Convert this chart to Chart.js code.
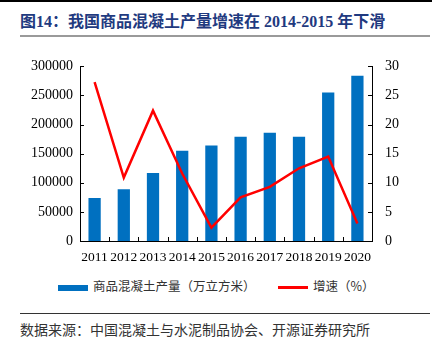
<!DOCTYPE html>
<html>
<head>
<meta charset="utf-8">
<script src="https://cdn.jsdelivr.net/npm/chart.js@4"></script>
<style>
  body { margin: 0; width: 442px; height: 342px; background: #fff; position: relative; overflow: hidden; }
  .topline { position: absolute; left: 0; top: 0; width: 432px; height: 2px; background: #000; }
  .title { position: absolute; left: 20px; top: 8px; font: bold 16px "Liberation Serif", "Noto Sans CJK SC"; color: #1f3a80; white-space: nowrap; }
  .titleline { position: absolute; left: 20px; top: 35px; width: 410px; height: 2px; background: #9a9a9a; }
  #wrap { position: absolute; left: 0; top: 45px; width: 442px; height: 227px; }
  .legend { position: absolute; top: 276px; font: 12.5px "Noto Sans CJK SC"; color: #333; white-space: nowrap; }
  .footline { position: absolute; left: 20px; top: 313px; width: 410px; height: 1px; background: #333; }
  .source { position: absolute; left: 20px; top: 319px; font: 14px "Noto Sans CJK SC"; color: #333; white-space: nowrap; }
</style>
</head>
<body>
<div class="topline"></div>
<div class="title">图14：我国商品混凝土产量增速在 2014-2015 年下滑</div>
<div class="titleline"></div>
<div id="wrap"><canvas id="c"></canvas></div>
<div class="legend" style="left:58px"><span style="display:inline-block;width:30px;height:6px;background:#0070c0;vertical-align:middle;margin-right:5px"></span>商品混凝土产量（万立方米）</div>
<div class="legend" style="left:278px"><span style="display:inline-block;width:30px;height:3px;background:#ff0000;vertical-align:middle;margin-right:5px"></span>增速（%）</div>
<div class="footline"></div>
<div class="source">数据来源：中国混凝土与水泥制品协会、开源证券研究所</div>
<script>
var years = ['2011', '2012', '2013', '2014', '2015', '2016', '2017', '2018', '2019', '2020'];
var output = [74000, 89000, 117000, 155000, 164000, 179000, 186000, 179000, 255000, 284000];
var growth = [27.3, 10.9, 22.4, 11.6, 2.3, 7.5, 9.3, 12.5, 14.5, 3.0];

// short tick marks pointing into the plot, like the original
var innerTicks = {
  id: 'innerTicks',
  afterDraw: function (chart) {
    var ctx = chart.ctx;
    var a = chart.chartArea;
    ctx.save();
    ctx.strokeStyle = '#000';
    ctx.lineWidth = 1;
    ctx.beginPath();
    var x = chart.scales.x;
    var step = x.getPixelForTick(1) - x.getPixelForTick(0);
    for (var i = 0; i <= years.length; i++) {
      var px = i < years.length ? x.getPixelForTick(i) - step / 2 : x.getPixelForTick(i - 1) + step / 2;
      px = Math.round(px) + 0.5;
      ctx.moveTo(px, a.bottom);
      ctx.lineTo(px, a.bottom - 4);
    }
    chart.scales.y.ticks.forEach(function (t, i) {
      var py = Math.round(chart.scales.y.getPixelForTick(i)) + 0.5;
      ctx.moveTo(a.left, py);
      ctx.lineTo(a.left + 4, py);
    });
    chart.scales.y1.ticks.forEach(function (t, i) {
      var py = Math.round(chart.scales.y1.getPixelForTick(i)) + 0.5;
      ctx.moveTo(a.right, py);
      ctx.lineTo(a.right - 4, py);
    });
    ctx.stroke();
    ctx.restore();
  }
};

var tickFont = { family: '"Liberation Serif", "Times New Roman", serif', size: 14 };

new Chart(document.getElementById('c'), {
  data: {
    labels: years,
    datasets: [{
      type: 'line',
      label: '增速（%）',
      data: growth,
      yAxisID: 'y1',
      borderColor: '#ff0000',
      borderWidth: 2.5,
      pointRadius: 0,
      tension: 0,
      order: 0
    }, {
      type: 'bar',
      label: '商品混凝土产量（万立方米）',
      data: output,
      yAxisID: 'y',
      backgroundColor: '#0070c0',
      barPercentage: 0.42,
      categoryPercentage: 1,
      order: 1
    }]
  },
  options: {
    responsive: true,
    maintainAspectRatio: false,
    animation: false,
    layout: { padding: { top: 16, left: 0, right: 0, bottom: 0 } },
    plugins: { legend: { display: false }, tooltip: { enabled: false } },
    scales: {
      x: {
        grid: { display: false, drawTicks: false },
        border: { display: true, color: '#000', width: 1 },
        ticks: {
          color: '#000', font: { family: tickFont.family, size: 13.5 },
          padding: 8, maxRotation: 0, autoSkip: false
        },
        afterFit: function (s) { s.height = 31; }
      },
      y: {
        position: 'left',
        min: 0, max: 300000,
        grid: { display: false, drawTicks: false },
        border: { display: true, color: '#000', width: 1 },
        ticks: {
          stepSize: 50000, color: '#000', font: tickFont, padding: 7,
          callback: function (v) { return String(v); }
        },
        afterFit: function (s) { s.width = 80; }
      },
      y1: {
        position: 'right',
        min: 0, max: 30,
        grid: { display: false, drawTicks: false },
        border: { display: true, color: '#000', width: 1 },
        ticks: { stepSize: 5, color: '#000', font: tickFont, padding: 13 },
        afterFit: function (s) { s.width = 70; }
      }
    }
  },
  plugins: [innerTicks]
});
</script>
</body>
</html>
